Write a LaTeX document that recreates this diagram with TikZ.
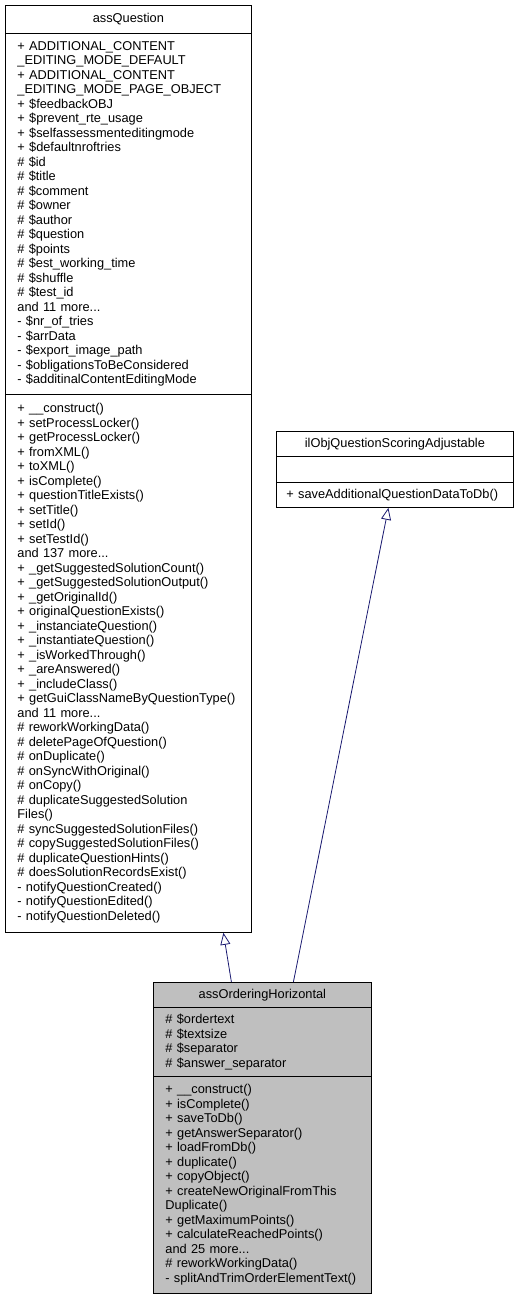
\documentclass[tikz,border=0pt]{standalone}
\usepackage{fontspec}
\setmainfont{Liberation Sans}
\usetikzlibrary{arrows.meta}
\definecolor{edgeblue}{HTML}{191970}
\definecolor{classgray}{HTML}{BFBFBF}

\tikzset{
  classtitle/.style={draw, line width=0.8pt, anchor=north west, inner sep=0pt, align=center},
  classcell/.style={draw, line width=0.8pt, anchor=north west, inner xsep=12pt, inner ysep=0pt, align=left},
  inherit/.style={edgeblue, line width=0.8pt, -{Triangle[open,length=12pt,width=10pt]}}
}

\begin{document}
\begin{tikzpicture}[x=1pt,y=-1pt,every node/.style={font=\fontsize{12.8}{14.5}\selectfont}]
  \useasboundingbox (0,0) rectangle (520,1299);
  % base class
  \node[classtitle, minimum width=246pt, minimum height=28pt] (qName) at (5,5) {assQuestion};
  \node[classcell, text width=222pt, minimum height=361pt] (qAttr) at (5,33) {%
    + ADDITIONAL\_CONTENT\\ \_EDITING\_MODE\_DEFAULT\\
    + ADDITIONAL\_CONTENT\\ \_EDITING\_MODE\_PAGE\_OBJECT\\
    + \$feedbackOBJ\\ + \$prevent\_rte\_usage\\ + \$selfassessmenteditingmode\\
    + \$defaultnroftries\\ \# \$id\\ \# \$title\\ \# \$comment\\ \# \$owner\\
    \# \$author\\ \# \$question\\ \# \$points\\ \# \$est\_working\_time\\
    \# \$shuffle\\ \# \$test\_id\\ and 11 more...\\ - \$nr\_of\_tries\\
    - \$arrData\\ - \$export\_image\_path\\ - \$obligationsToBeConsidered\\
    - \$additinalContentEditingMode};
  \node[classcell, text width=222pt, minimum height=538pt] (qOps) at (5,394) {%
    + \_\_construct()\\ + setProcessLocker()\\ + getProcessLocker()\\
    + fromXML()\\ + toXML()\\ + isComplete()\\ + questionTitleExists()\\
    + setTitle()\\ + setId()\\ + setTestId()\\ and 137 more...\\
    + \_getSuggestedSolutionCount()\\ + \_getSuggestedSolutionOutput()\\
    + \_getOriginalId()\\ + originalQuestionExists()\\
    + \_instanciateQuestion()\\ + \_instantiateQuestion()\\
    + \_isWorkedThrough()\\ + \_areAnswered()\\ + \_includeClass()\\
    + getGuiClassNameByQuestionType()\\ and 11 more...\\
    \# reworkWorkingData()\\ \# deletePageOfQuestion()\\ \# onDuplicate()\\
    \# onSyncWithOriginal()\\ \# onCopy()\\ \# duplicateSuggestedSolution\\
    Files()\\ \# syncSuggestedSolutionFiles()\\ \# copySuggestedSolutionFiles()\\
    \# duplicateQuestionHints()\\ \# doesSolutionRecordsExist()\\
    - notifyQuestionCreated()\\ - notifyQuestionEdited()\\
    - notifyQuestionDeleted()};
  % interface
  \node[classtitle, minimum width=237pt, minimum height=25pt] (sName) at (276,431) {ilObjQuestionScoringAdjustable};
  \node[classcell, text width=213pt, minimum height=26pt] (sAttr) at (276,456) {};
  \node[classcell, inner xsep=10pt, text width=217pt, minimum height=25pt] (sOps) at (276,482) {\mbox{+ saveAdditionalQuestionDataToDb()}};
  % derived class
  \node[classtitle, fill=classgray, minimum width=218pt, minimum height=25pt] (hName) at (153,982) {assOrderingHorizontal};
  \node[classcell, fill=classgray, text width=194pt, minimum height=69pt] (hAttr) at (153,1007) {%
    \# \$ordertext\\ \# \$textsize\\ \# \$separator\\ \# \$answer\_separator};
  \node[classcell, fill=classgray, text width=194pt, minimum height=217pt] (hOps) at (153,1076) {%
    + \_\_construct()\\ + isComplete()\\ + saveToDb()\\ + getAnswerSeparator()\\
    + loadFromDb()\\ + duplicate()\\ + copyObject()\\
    + createNewOriginalFromThis\\ Duplicate()\\ + getMaximumPoints()\\
    + calculateReachedPoints()\\ and 25 more...\\ \# reworkWorkingData()\\
    - splitAndTrimOrderElementText()};
  % inheritance
  \draw[inherit] ([xshift=-31pt]hName.north) -- ([xshift=95pt]qOps.south);
  \draw[inherit] ([xshift=31pt]hName.north) -- ([xshift=-6.5pt]sOps.south);
\end{tikzpicture}
\end{document}
